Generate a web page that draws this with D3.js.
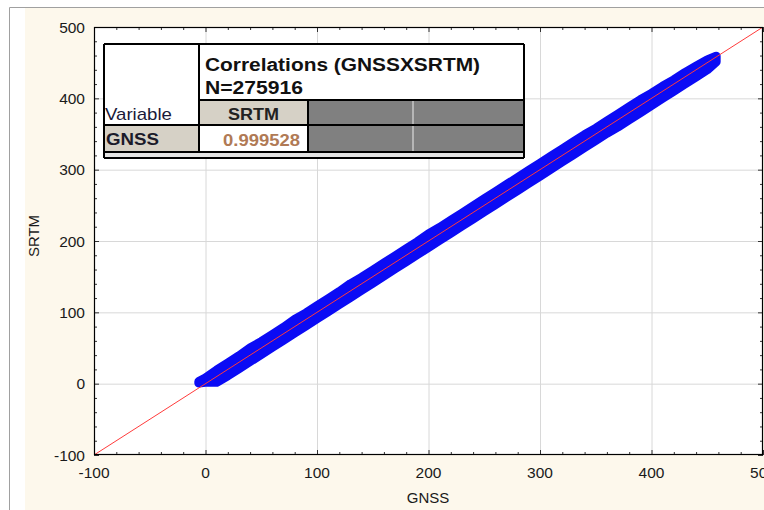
<!DOCTYPE html>
<html>
<head>
<meta charset="utf-8">
<script src="https://cdn.jsdelivr.net/npm/d3@7"></script>
<style>
  body { margin: 0; background: #fff; }
  svg { display: block; font-family: "Liberation Sans", Arial, sans-serif; }
</style>
</head>
<body>
<div id="chart"></div>
<script>
// axis ticks
const xTicks = [-100, 0, 100, 200, 300, 400, 500];
const yTicks = [-100, 0, 100, 200, 300, 400, 500];

// envelope of the GNSS x SRTM point cloud
const gnssEdge   = [-6, 0, 10, 20, 30, 40, 50, 60, 70, 80, 90, 100, 110, 120, 130, 140, 150, 160, 170, 180, 190, 200, 210, 220, 230, 240, 250, 260, 270, 280, 290, 300, 310, 320, 330, 340, 350, 360, 370, 380, 390, 400, 410, 420, 430, 440, 450, 458];
const srtmTop    = [3, 8, 19, 29, 39, 50, 59, 69, 79, 90, 99, 109, 119, 129, 140, 149, 159, 169, 179, 189, 199, 210, 219, 229, 239, 249, 259, 269, 279, 289, 299, 309, 319, 329, 339, 349, 358, 368, 378, 388, 398, 407, 417, 426, 436, 445, 454, 459];
const srtmBottom = [1, 2, 2, 11, 21, 31, 41, 51, 61, 71, 81, 91, 101, 111, 121, 131, 141, 151, 161, 171, 181, 191, 201, 211, 221, 231, 241, 251, 261, 271, 281, 291, 301, 311, 321, 331, 341, 351, 360, 370, 380, 390, 400, 410, 420, 430, 440, 451];

// fitted line y = x
const fitLine = [-100, 500];

// correlation table
const corrTitle = "Correlations (GNSSXSRTM)";
const corrN = "N=275916";
const corrVar = "GNSS";
const corrCol = "SRTM";
const corrValue = "0.999528";

const width = 764, height = 510;
const svg = d3.select("#chart").append("svg")
  .attr("width", width).attr("height", height);

// outer frame + cream background
svg.append("rect").attr("x", 0).attr("y", 0).attr("width", width).attr("height", height).attr("fill", "#fff");
svg.append("rect").attr("x", 25).attr("y", 8).attr("width", width - 25).attr("height", height - 8).attr("fill", "#fdf8ec");
svg.append("path").attr("d", `M9.5,${height}V7.5H${width}`).attr("fill", "none").attr("stroke", "#a0a0a0");

const pLeft = 94, pRight = 763, pTop = 27, pBottom = 455;
const x = d3.scaleLinear().domain([-100, 500]).range([pLeft, pRight]);
const y = d3.scaleLinear().domain([-100, 500]).range([pBottom, pTop]);

svg.append("rect").attr("x", pLeft).attr("y", pTop).attr("width", pRight - pLeft).attr("height", pBottom - pTop).attr("fill", "#fff");

// grid
const g = svg.append("g");
g.selectAll(".gx").data(xTicks.slice(1, -1)).join("line")
  .attr("x1", d => x(d) + 0.5).attr("x2", d => x(d) + 0.5)
  .attr("y1", pTop).attr("y2", pBottom).attr("stroke", "#d8d8d8");
g.selectAll(".gy").data(yTicks.slice(1, -1)).join("line")
  .attr("y1", d => y(d) + 0.5).attr("y2", d => y(d) + 0.5)
  .attr("x1", pLeft).attr("x2", pRight).attr("stroke", "#d8d8d8");

svg.append("clipPath").attr("id", "clip").append("rect")
  .attr("x", pLeft).attr("y", pTop).attr("width", pRight - pLeft).attr("height", pBottom - pTop);
const plot = svg.append("g").attr("clip-path", "url(#clip)");

// point cloud: envelope filled, outline widened by the marker radius
const blue = "#0b0bf5";
const band = gnssEdge.map((d, i) => ({g: d, hi: srtmTop[i], lo: srtmBottom[i]}));
plot.append("path").datum(band)
  .attr("d", d3.area().x(d => x(d.g)).y0(d => y(d.lo)).y1(d => y(d.hi)))
  .attr("fill", blue).attr("stroke", blue)
  .attr("stroke-width", 9).attr("stroke-linejoin", "round");

// y = x line
plot.append("line")
  .attr("x1", x(fitLine[0])).attr("y1", y(fitLine[0]))
  .attr("x2", x(fitLine[1])).attr("y2", y(fitLine[1]))
  .attr("stroke", "#ff3b3b").attr("stroke-width", 1);

// axes: inward ticks on all four sides
const minor = d3.range(-100, 501, 20);
function inward(axisFn, scale, len) {
  return axisFn(scale).tickValues(minor.filter(v => v % 100 !== 0)).tickSize(len).tickFormat("");
}
svg.append("g").attr("transform", `translate(0,${pBottom})`)
  .call(d3.axisTop(x).tickValues(xTicks).tickSize(5).tickFormat(""));
svg.append("g").attr("transform", `translate(0,${pBottom})`).call(inward(d3.axisTop, x, 3));
svg.append("g").attr("transform", `translate(0,${pTop})`).call(inward(d3.axisBottom, x, 3));
svg.append("g").attr("transform", `translate(0,${pTop})`)
  .call(d3.axisBottom(x).tickValues(xTicks).tickSize(5).tickFormat(""));
svg.append("g").attr("transform", `translate(${pLeft},0)`)
  .call(d3.axisRight(y).tickValues(yTicks).tickSize(5).tickFormat(""));
svg.append("g").attr("transform", `translate(${pLeft},0)`).call(inward(d3.axisRight, y, 3));
svg.append("g").attr("transform", `translate(${pRight},0)`)
  .call(d3.axisLeft(y).tickValues(yTicks).tickSize(5).tickFormat(""));
svg.append("g").attr("transform", `translate(${pRight},0)`).call(inward(d3.axisLeft, y, 3));
svg.selectAll(".domain").remove();
svg.selectAll(".tick line").attr("stroke", "#333");

svg.append("rect").attr("x", pLeft + 0.5).attr("y", pTop + 0.5)
  .attr("width", pRight - pLeft - 1).attr("height", pBottom - pTop - 1)
  .attr("fill", "none").attr("stroke", "#000").attr("stroke-width", 1.2);

// tick labels
svg.selectAll(".xl").data(xTicks).join("text")
  .attr("x", d => x(d)).attr("y", 478).attr("text-anchor", "middle")
  .attr("font-size", 15.5).attr("fill", "#1a1a1a").text(d => d);
svg.selectAll(".yl").data(yTicks).join("text")
  .attr("x", 85).attr("y", d => y(d) + 5.5).attr("text-anchor", "end")
  .attr("font-size", 15.5).attr("fill", "#1a1a1a").text(d => d);

svg.append("text").attr("x", 428).attr("y", 503)
  .attr("text-anchor", "middle").attr("font-size", 15).attr("fill", "#1a1a1a").text("GNSS");
svg.append("text").attr("transform", `translate(39,236) rotate(-90)`)
  .attr("text-anchor", "middle").attr("font-size", 15).attr("fill", "#1a1a1a").text("SRTM");

// correlation table
const t = svg.append("g");
const tx0 = 104, tx1 = 199, tx2 = 308, tx3 = 413, tx4 = 524;
const ty0 = 44, ty1 = 100, ty2 = 125, ty3 = 152, ty4 = 158;
t.append("rect").attr("x", tx0).attr("y", ty0).attr("width", tx4 - tx0).attr("height", ty4 - ty0).attr("fill", "#fff");
t.append("rect").attr("x", tx1).attr("y", ty1).attr("width", tx2 - tx1).attr("height", ty2 - ty1).attr("fill", "#d6d1c6");
t.append("rect").attr("x", tx0).attr("y", ty2).attr("width", tx1 - tx0).attr("height", ty3 - ty2).attr("fill", "#d6d1c6");
t.append("rect").attr("x", tx2).attr("y", ty1).attr("width", tx4 - tx2).attr("height", ty3 - ty1).attr("fill", "#808080");
t.append("rect").attr("x", tx0).attr("y", ty3).attr("width", tx4 - tx0).attr("height", ty4 - ty3).attr("fill", "#e4e4e4");
t.append("line").attr("x1", tx3).attr("x2", tx3).attr("y1", ty1).attr("y2", ty3).attr("stroke", "#c8c8c8").attr("stroke-width", 1.5);
const ln = (x1, y1, x2, y2) => t.append("line").attr("x1", x1).attr("y1", y1).attr("x2", x2).attr("y2", y2)
  .attr("stroke", "#000").attr("stroke-width", 2);
ln(tx0, ty0, tx4, ty0);
ln(tx0, ty4, tx4, ty4);
ln(tx0, ty0, tx0, ty4);
ln(tx4, ty0, tx4, ty4);
ln(tx1, ty0, tx1, ty3);
ln(tx1, ty1, tx4, ty1);
ln(tx0, ty2, tx4, ty2);
ln(tx0, ty3, tx4, ty3);
ln(tx2, ty1, tx2, ty3);

function label(txt, x0, yb, w, opts) {
  return t.append("text").attr("x", x0).attr("y", yb)
    .attr("font-size", opts.size).attr("font-weight", opts.bold ? "bold" : "normal")
    .attr("fill", opts.color).attr("textLength", w).attr("lengthAdjust", "spacingAndGlyphs")
    .text(txt);
}
label(corrTitle, 205, 71, 275, {size: 18, bold: true, color: "#111"});
label(corrN, 205, 94, 98, {size: 18, bold: true, color: "#111"});
label("Variable", 105, 120, 67, {size: 17, bold: false, color: "#1a1a3a"});
label(corrCol, 228, 120, 51, {size: 16.5, bold: true, color: "#222"});
label(corrVar, 106, 145, 53, {size: 16.5, bold: true, color: "#1a1a2a"});
label(corrValue, 223, 146, 77, {size: 17, bold: true, color: "#b07a55"});
</script>
</body>
</html>
